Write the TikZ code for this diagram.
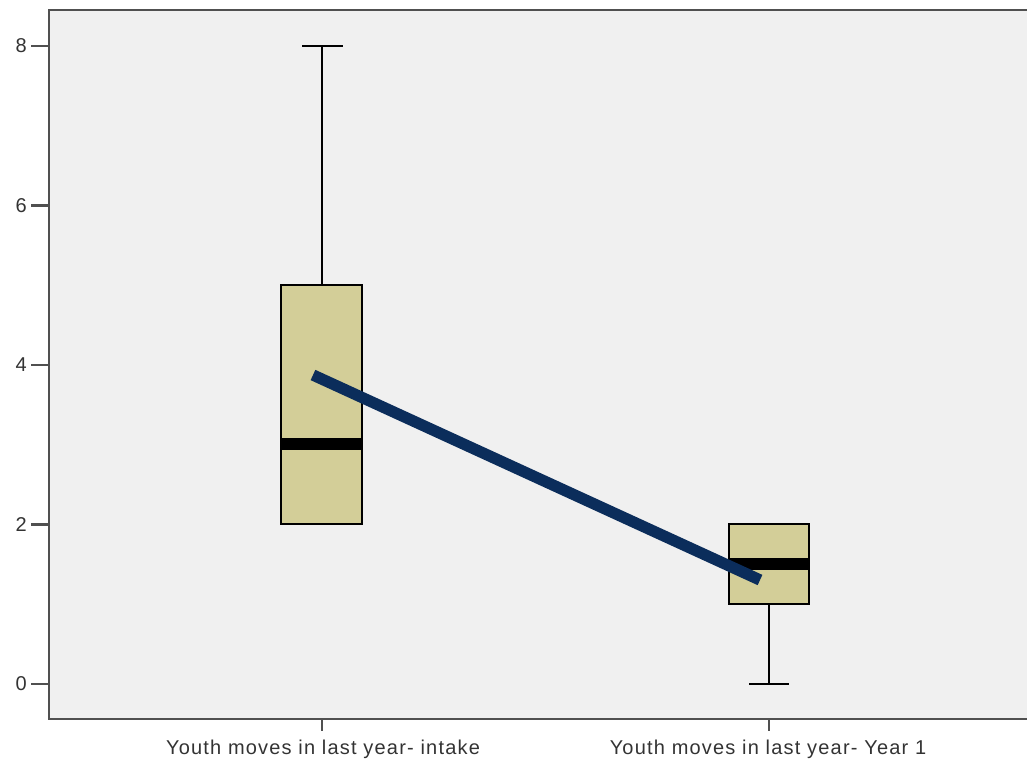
\documentclass[tikz,border=0pt]{standalone}
\usepackage{fontspec}
\setmainfont{Liberation Sans}
\definecolor{plotbg}{HTML}{F0F0F0}
\definecolor{boxfill}{HTML}{D3CE98}
\definecolor{framegray}{HTML}{505050}
\definecolor{trendblue}{HTML}{0B2D5B}
\begin{document}
\begin{tikzpicture}[x=0.75pt,y=-0.75pt,
  boxstyle/.style={draw=black,line width=2pt,fill=boxfill},
  medianline/.style={line width=8.5pt},
  whisker/.style={line width=2.2pt},
  ticklabel/.style={font=\fontsize{15}{17}\selectfont\addfontfeature{LetterSpace=6},text=black!80}]
\useasboundingbox (0,0) rectangle (1027,764);
% plot area
\fill[plotbg] (49,10) rectangle (1027,719);
\draw[framegray,line width=1.8pt] (1027,10) -- (49,10) -- (49,719) -- (1027,719);
% y axis
\foreach \v in {0,2,4,6,8}{
  \draw[framegray,line width=1.8pt] (31,{684-79.75*\v}) -- (49,{684-79.75*\v});
  \node[ticklabel,anchor=east,inner sep=0pt] (y\v) at (27,{684-79.75*\v}) {\v};
}
% box 1
\draw[whisker] (322,285) -- (322,46);
\draw[whisker] (302,46) -- (343,46);
\draw[boxstyle] (281,285) rectangle (362,524);
\draw[medianline] (281,444) -- (362,444);
% box 2
\draw[whisker] (769,604) -- (769,684);
\draw[whisker] (749,684) -- (789,684);
\draw[boxstyle] (729,524) rectangle (809,604);
\draw[medianline] (729,564) -- (809,564);
% trend
\draw[trendblue,line width=8.5pt] (313,375) -- (760,580);
% x axis
\draw[framegray,line width=1.8pt] (322,719) -- (322,731);
\draw[framegray,line width=1.8pt] (769,719) -- (769,731);
\node[ticklabel] (xa) at (323,749) {Youth moves in last year- intake};
\node[ticklabel] (xb) at (768,749) {Youth moves in last year- Year 1};
\end{tikzpicture}
\end{document}
